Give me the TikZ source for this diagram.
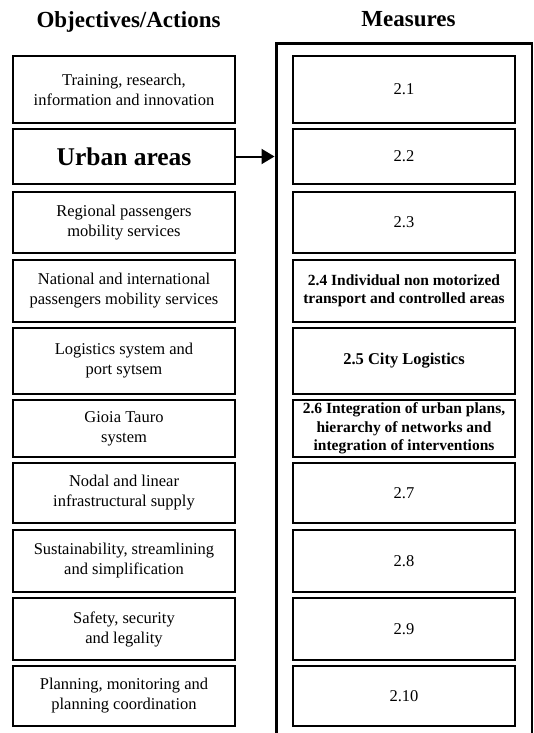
\documentclass[tikz,border=0pt]{standalone}
\usepackage{fontspec}
\setmainfont{Liberation Serif}
\usetikzlibrary{arrows.meta}
\begin{document}
\begin{tikzpicture}[x=1pt,y=-1pt,
  box/.style={draw, line width=1.4pt, inner sep=0pt, align=center},
  lbox/.style={box, minimum width=222pt},
  rbox/.style={box, minimum width=222pt},
  normtxt/.style={font=\fontsize{16.5}{20}\selectfont},
  boldtxt/.style={font=\bfseries\fontsize{15.5}{18.5}\selectfont},
  title/.style={font=\bfseries\fontsize{23}{27}\selectfont, inner sep=0pt}
]
\useasboundingbox (0,0) rectangle (533,733);
% titles
\node[title, anchor=base] (t1) at (128.5,28) {Objectives/Actions};
\node[title, anchor=base] (t2) at (408.5,27) {Measures};
% frame
\coordinate (fbl) at (276,733);
\coordinate (ftl) at (276,44);
\coordinate (ftr) at (532,44);
\coordinate (fbr) at (532,733);
\draw[line width=3pt] (fbl) -- (ftl) -- ([xshift=0.75pt]ftr);
\draw[line width=1.5pt] (ftr) -- (fbr);
% left boxes
\node[lbox, normtxt, minimum height=67pt] (l1) at (124,89.5) {Training, research,\\information and innovation};
\node[lbox, minimum height=55pt, font=\bfseries\fontsize{25.5}{30}\selectfont] (l2) at (124,156.5) {Urban areas};
\node[lbox, normtxt, minimum height=61pt] (l3) at (124,222.5) {Regional passengers\\mobility services};
\node[lbox, normtxt, minimum height=62pt] (l4) at (124,291) {National and international\\passengers mobility services};
\node[lbox, normtxt, minimum height=66pt] (l5) at (124,361) {Logistics system and\\port sytsem};
\node[lbox, normtxt, minimum height=57pt] (l6) at (124,428.5) {Gioia Tauro\\system};
\node[lbox, normtxt, minimum height=60pt] (l7) at (124,493) {Nodal and linear\\infrastructural supply};
\node[lbox, normtxt, minimum height=62pt] (l8) at (124,561) {Sustainability, streamlining\\and simplification};
\node[lbox, normtxt, minimum height=62pt] (l9) at (124,629) {Safety, security\\and legality};
\node[lbox, normtxt, minimum height=60pt] (l10) at (124,696) {Planning, monitoring and\\planning coordination};
% right boxes
\node[rbox, normtxt, minimum height=67pt] (r1) at (404,89.5) {2.1};
\node[rbox, normtxt, minimum height=55pt] (r2) at (404,156.5) {2.2};
\node[rbox, normtxt, minimum height=61pt] (r3) at (404,222.5) {2.3};
\node[rbox, boldtxt, minimum height=62pt] (r4) at (404,291) {2.4 Individual non motorized\\transport and controlled areas};
\node[rbox, minimum height=66pt, font=\bfseries\fontsize{16.5}{20}\selectfont] (r5) at (404,361) {2.5 City Logistics};
\node[rbox, boldtxt, minimum height=57pt] (r6) at (404,428.5) {2.6 Integration of urban plans,\\hierarchy of networks and\\integration of interventions};
\node[rbox, normtxt, minimum height=60pt] (r7) at (404,493) {2.7};
\node[rbox, normtxt, minimum height=62pt] (r8) at (404,561) {2.8};
\node[rbox, normtxt, minimum height=62pt] (r9) at (404,629) {2.9};
\node[rbox, normtxt, minimum height=60pt] (r10) at (404,696) {2.10};
% arrow
\coordinate (atip) at (274.5,156.5);
\draw[line width=2pt, -{Triangle[length=13pt,width=15pt]}] (l2.east) -- (atip);
\end{tikzpicture}
\end{document}
